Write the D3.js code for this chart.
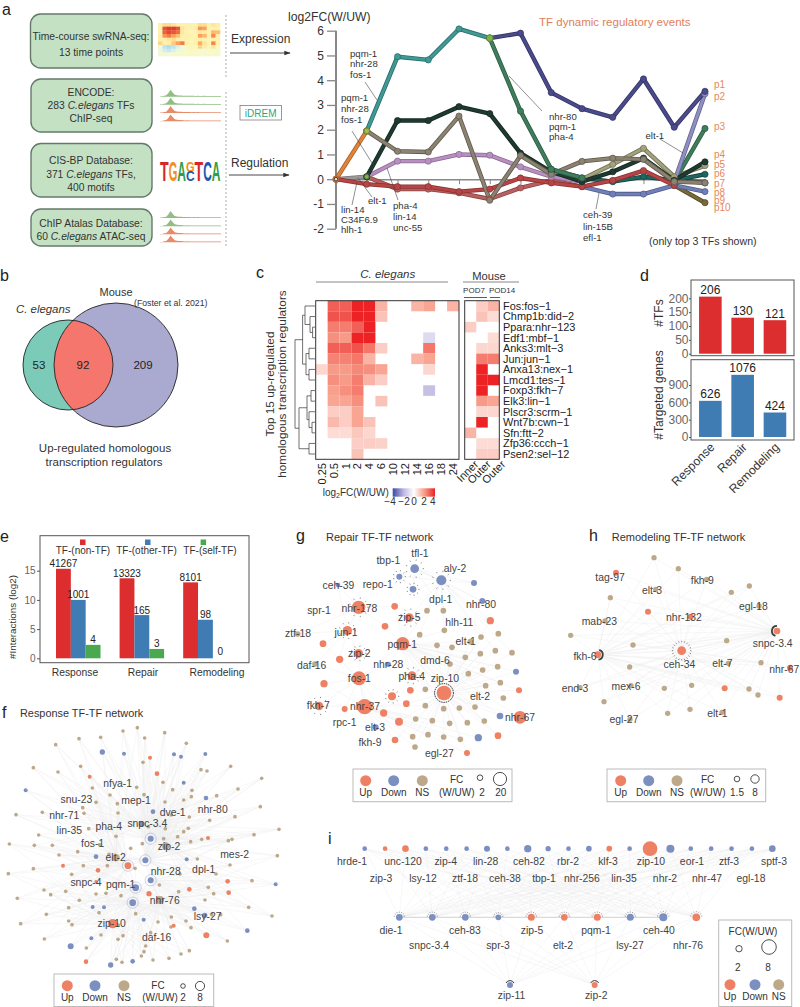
<!DOCTYPE html>
<html lang="en">
<head>
<meta charset="UTF-8">
<title>TF regulatory networks</title>
<script src="https://cdn.jsdelivr.net/npm/d3@7"></script>
<style>
  html, body { margin: 0; padding: 0; background: #fff; }
  svg { display: block; font-family: "Liberation Sans", Arial, sans-serif; }
  .tick text { font-family: "Liberation Sans", Arial, sans-serif; }
</style>
</head>
<body>
<div id="chart"></div>
<script>
// ---- panel a: temporal paths (log2FC per time point)
const timePoints = [0,1,2,3,4,5,6,7,8,9,10,11,12];
const pathStarts = [0,1,5,5,1,1,1,7,0,1,7,8,11,11,11,11,0];
const pathValues = [
  [0,1.95],
  [1.95,4.95,4.82,6.07,5.7],
  [5.7,5.9,3.5,2.85,2.5,4.05,2.1,3.55],
  [5.7,2.75,0.4,0.05],
  [1.95,1.13,1.1,2.55,-0.85,0.95,0.2,0.72,0.85,0.8,-0.1,-0.15],
  [0.1,2.37,2.37,2.93,2.65,1.05,0.3,-0.1,0.3,0.85,-0.05,0.7],
  [0.1,0.73,0.73,1,0.97,0.5,0.1,-0.1],
  [0.15,0,0.6,1.25,0.1,0.55],
  [0,-0.2,-0.3,-0.3,-0.5,-0.4,0.05,-0.15,-0.3,-0.05,0.35,-0.25],
  [0.1,-0.4,-0.4,-0.55,-0.8,-0.35,-0.05,-0.3],
  [0.4,0.05,-0.1,0.1,-0.05,0.2],
  [-0.3,-0.6,-0.6,-0.25,-0.5],
  [-0.1,3.45],
  [-0.1,2.05],
  [-0.25,-0.95],
  [0,-0.15],
  [0,0.1]
];
const pathLabels = ["p1","p2","p3","p4","p5","p6","p7","p8","p9","p10"];
const chartYTicks = [-2,-1,0,1,2,3,4,5,6];

// ---- panel b
const vennCounts = [53,92,209];

// ---- panel c
const hourCols = ["0.25","0.5","1","2","4","6","10","12","14","16","18","24"];
const mouseCols = ["Inner","Outer ","Outer"];
const regulators = ["Fos:fos\u22121","Chmp1b:did\u22122","Ppara:nhr\u2212123","Edf1:mbf\u22121","Anks3:mlt\u22123","Jun:jun\u22121","Anxa13:nex\u22121","Lmcd1:tes\u22121","Foxp3:fkh\u22127","Elk3:lin\u22121","Plscr3:scrm\u22121","Wnt7b:cwn\u22121","Sfn:ftt\u22122","Zfp36:ccch\u22121","Psen2:sel\u221212"];
const wormFC = [
  [0,3,3,4,4,1.5,0,0,1.5,1.8,0,1.5],
  [0,3.2,3.2,4,4,1.2,0,0,0,0,0,0],
  [0,2.5,2.5,3,4,0,0,0,0,0,0,0],
  [0,2.2,2,4,4,0,0,0,0,-1,0,0],
  [0,3,3,3.2,2.6,1,0,0,0,2.6,0,0],
  [0,2.4,2.4,2.6,1.5,0,0,0,1.5,1.8,0,0],
  [0.8,2,2,2.3,2.2,1.8,0,0,0,0.8,0,0],
  [0,2.2,2,2.5,1.5,1,0,0,0,0,0,0],
  [0,1.9,2.2,2.5,0,0,0,0,0,-1.7,0,0],
  [0,1.8,1.8,2.2,0,1.2,0,0,0,0,0,0],
  [0,1,1,1.8,0,0,0,0,0,0,0,0],
  [0,1.4,1,1.8,1.2,0,0,0,0,0,0,0],
  [0,0.7,0.7,1.1,0.8,0,0,0,0,0,0,0],
  [0,0,0,1,1,0.9,0,0,0,0,0,0],
  [0,0,0,1.2,0,0,0,0,0,0,0,0]
];
const mouseFC = [[0,1,1.5],[0,1.2,0.7],[1,0,0],[0,0,0.7],[0,0.8,0.8],[0,2.5,2.5],[0,4,0],[0,4,4],[0,4,0],[0,2,1.8],[0,0.8,0.8],[0,4,0],[1.5,0,0],[0,0.7,0.7],[0,1,1]];
// dendrogram: [height, left, right], leaves are row numbers
const dendro = [1,
  [0.62,
    [0.5,0,[0.25,1,[0.12,2,3]]],
    [0.45,[0.3,4,5],[0.3,6,7]]],
  [0.8,[0.4,[0.2,8,9],[0.3,10,[0.15,11,12]]],[0.3,13,14]]];

// ---- panel d
const phases = ["Response","Repair","Remodeling"];
const tfCounts = [206,130,121];
const geneCounts = [626,1076,424];

// ---- panel e
const interactionKinds = ["TF-(non-TF)","TF-(other-TF)","TF-(self-TF)"];
const interactionCounts = [[41267,1001,4],[13323,165,3],[8101,98,0]];
const interactionLog2 = [[15.33,10,2.3],[13.7,7.4,1.6],[13,6.6,0]];

// ---- networks: layout, in layout units [x, y, size]
const respUp = [[450,173,6],[471,221,7],[269,230,6],[624,414,6],[189,497,6],[294,511,7],[288,545,5],[683,544,7],[686,578,7],[568,568,7],[447,581,8],[521,677,6],[619,706,9],[258,785,7],[338,671,14],[384,497,10]];
const respDown = [[307,156,8],[372,161,6],[522,163,6],[543,170,6],[616,162,6],[77,271,6],[551,248,6],[618,294,7],[459,335,7],[288,470,7],[560,478,6],[827,553,6],[278,621,6],[312,622,6],[583,626,7],[431,659,6],[274,715,6],[742,692,7],[212,739,9],[332,795,8],[398,784,7],[425,372,9],[452,416,9],[436,481,9],[407,563,10],[398,608,10],[452,541,9],[614,646,8]];
const respNS = [[412,83],[369,93],[494,98],[237,116],[302,112],[434,114],[559,130],[167,134],[100,203],[174,216],[242,199],[429,187],[603,209],[621,213],[692,199],[785,235],[489,247],[410,262],[277,264],[518,269],[576,271],[714,267],[574,290],[330,285],[432,284],[650,287],[551,300],[288,307],[495,306],[248,323],[352,311],[127,337],[252,340],[48,344],[354,339],[781,320],[705,350],[514,345],[568,351],[629,361],[565,385],[551,395],[496,386],[266,386],[116,405],[445,380],[348,409],[427,431],[533,410],[762,404],[696,418],[685,422],[28,432],[103,436],[157,436],[233,455],[177,465],[832,467],[837,388],[572,425],[605,418],[491,416],[392,445],[299,434],[327,463],[250,497],[322,497],[405,505],[592,477],[690,495],[100,506],[25,521],[215,523],[648,522],[540,522],[756,542],[132,570],[197,574],[152,584],[625,562],[641,581],[52,595],[238,601],[206,623],[288,582],[318,580],[363,587],[478,555],[536,575],[615,600],[746,622],[816,648],[139,643],[62,671],[206,663],[216,674],[297,638],[407,641],[355,675],[474,666],[514,651],[558,663],[635,644],[662,644],[133,717],[303,705],[369,707],[354,718],[452,698],[513,681],[573,683],[682,723],[437,738],[432,755],[424,768],[259,744],[349,778],[366,787],[459,780],[507,775],[543,762],[568,752],[497,438,11],[348,473,11],[480,600,12]];
const respRings = [[452,416],[436,481],[407,563],[398,608],[452,541],[384,497]];
const respLabels = ["nfya-1","snu-23","mep-1","dve-1","nhr-80","nhr-71","snpc-3.4","pha-4","lin-35","fos-1","zip-2","mes-2","elt-2","nhr-28","dpl-1","snpc-4","pqm-1","nhr-76","lsy-27","zip-10","daf-16"];
const respLabelAt = [[353,251],[229,298],[408,300],[518,338],[638,327],[193,347],[442,370],[326,380],[208,391],[278,430],[507,440],[704,463],[347,471],[497,513],[611,509],[258,546],[362,554],[494,602],[623,649],[335,671],[470,713]];

const repairUp = [[374,289,10],[418,323,13],[345,349,10],[266,292,20],[232,362,14],[398,401,20],[159,401,10],[209,448,11],[266,430,13],[267,505,21],[162,521,11],[426,497,13],[421,541,10],[522,549,22],[366,559,12],[409,581,10],[147,588,13],[224,597,9],[284,590,23],[341,609,11],[387,635,12],[375,690,10],[661,332,11],[747,541,9],[750,622,19],[684,677,10],[591,729,9]];
const repairDown = [[434,176,13],[514,211,15],[388,200,9],[429,238,10],[612,219,9],[637,273,9],[204,225,7],[355,463,8],[738,485,9],[690,618,10],[625,683,11],[317,652,9]];
const repairNS = [[471,302],[520,302],[523,361],[449,374],[501,406],[546,412],[633,381],[685,371],[586,442],[631,431],[676,422],[726,428],[540,462],[595,491],[638,480],[683,470],[647,527],[691,518],[466,538],[700,564],[466,587],[521,596],[568,594],[615,591],[437,627],[487,632],[539,640],[592,638],[643,633],[428,680],[474,674],[521,681],[571,688],[435,711],[601,395],[135,462],[83,372]];
const repairHubs = [[522,549],[398,401],[267,505],[284,590],[266,292],[232,362],[434,176],[514,211]];
const repairTicks = [[418,323,24],[266,292,26],[232,362,22],[266,430,20],[147,588,24],[426,497,22],[434,176,24],[514,211,25],[388,200,16],[429,238,16],[366,559,18]];
const repairLabels = ["tfl-1","tbp-1","aly-2","ceh-39","repo-1","dpl-1","nhr-80","spr-1","nhr-178","zip-5","hlh-11","jun-1","ztf-18","pqm-1","elt-1","zip-2","dmd-6","nhr-28","daf-16","fos-1","pha-4","zip-10","elt-2","fkh-7","nhr-37","nhr-67","rpc-1","elt-3","fkh-9","egl-27"];
const repairLabelAt = [[450,130],[355,150],[555,175],[205,226],[323,224],[512,268],[633,284],[147,302],[268,294],[418,323],[568,338],[228,366],[84,371],[397,402],[587,395],[268,431],[495,452],[355,464],[125,465],[268,506],[425,499],[525,506],[630,558],[145,587],[285,590],[750,622],[224,638],[315,651],[300,697],[508,730]];

const remodelUp = [[168,158,9],[264,275,9],[392,290,9],[365,392,13],[113,404,10],[651,333,10],[690,443,9],[494,505,9],[659,533,9]];
const remodelNS = [[282,113],[355,146],[151,233],[287,208],[440,178],[514,217],[568,198],[597,258],[32,346],[219,375],[500,362],[209,441],[603,428],[505,430],[135,303],[60,503],[213,497],[132,545],[313,505],[395,496],[567,507],[594,525],[323,580],[390,568],[486,577],[210,598]];
const remodelHubs = [[365,392],[113,404],[651,333]];
const remodelLabels = ["tag-97","fkh-9","elt-3","egl-18","nhr-132","mab-23","snpc-3.4","fkh-6","ceh-34","elt-7","nhr-67","mex-6","end-3","egl-27","elt-1"];
const remodelLabelAt = [[150,172],[427,181],[276,212],[580,259],[372,293],[118,303],[638,369],[75,408],[358,432],[487,431],[673,447],[198,500],[45,506],[192,599],[472,580]];

const topTFs = ["hrde-1","zip-3","unc-120","lsy-12","zip-4","ztf-18","lin-28","ceh-38","ceh-82","tbp-1","rbr-2","nhr-256","klf-3","lin-35","zip-10","nhr-2","eor-1","nhr-47","ztf-3","egl-18","sptf-3"];
const topTFClass = ["D","U","U","D","D","D","D","D","D","D","D","D","U","D","U","D","D","D","D","D","D"];
const topTFSize = [7,7,10,7,7,7,9,7,11,8,7,8.5,8.5,7,22,12,7,7,7,7,10];
const topTFLabelAt = [352,381,403,423,445.7,465,485.7,505,529,544,568,582,608,624,651,665,692,707,729,751,774];
const midTFs = ["die-1","snpc-3.4","ceh-83","spr-3","zip-5","elt-2","pqm-1","lsy-27","ceh-40","nhr-76"];
const midTFClass = ["D","D","D","D","U","U","U","D","D","U"];
const midTFSize = [10,10,10,8.5,10.5,10,10.5,10.5,12,11.5];
const midTFLabelAt = [391,429,465,498,532,563,596,630,659,688];
const lowTFs = ["zip-11","zip-2"];
const lowTFClass = ["D","U"];
const lowTFAt = [510,594.7];

// ---- panel a thumbnails
const thumbValues = [
  [.54,.6,.6,.58,.54,.54,.54,.54,.54,.6,.6,.54,.58,.55],
  [.54,.84,.88,.88,.84,.58,.54,.54,.55,.74,.72,.54,.54,.54],
  [.54,.82,.86,.84,.8,.57,.54,.52,.54,.58,.56,.54,.68,.66],
  [.55,.74,.78,.72,.66,.55,.54,.54,.52,.72,.68,.54,.76,.54],
  [.54,.55,.58,.6,.55,.54,.54,.52,.54,.55,.54,.52,.54,.54],
  [.62,.54,.55,.64,.72,.78,.54,.52,.54,.7,.58,.52,.76,.54],
  [.47,.34,.32,.34,.4,.47,.5,.52,.5,.62,.55,.52,.58,.5],
  [.44,.38,.36,.4,.44,.46,.48,.5,.5,.48,.46,.49,.47,.48],
  [.47,.47,.46,.48,.48,.49,.49,.5,.49,.47,.48,.49,.48,.49]
];
const peakShape = [0,0,.1,.15,.5,1,.6,.25,.18,.14,.12,.1,.08,.1,.08,.07,.08,.06,.08,.06,.06,.07,.05,.06,.05,.06,.05,.05,.06,.05];
const motifLetters = ["T","G","A","","T","C","A"];
// mouse column labels are spread wider than the cells
const mouseLabelEnd = [479,491.5,506];

// ---- styles
const fontDark = "#333";
const cUp = "#ee8063", cDown = "#7b8fc0", cNS = "#bda98a";
const netColor = { U: cUp, D: cDown };
const pathColors = ["#e0843c","#3f9a96","#4a4a8c","#3f7d5c","#8c8272","#1f3a30","#b78fc0","#a2a27c","#b84545","#b86060","#1f6660","#6f7fb8","#8f8fc4","#3f7d5c","#7a6a3a","#6d6a4c","#999999"];
const pathEdges = ["#a85f28","#2c6b6b","#333366","#2d5a44","#5f584c","#142820","#8a6a92","#6e6e52","#8a3030","#8a4242","#144540","#4f5c8a","#62628e","#2d5a44","#544824","#4a4834","#777777"];
const motifColors = { T: "#d62728", G: "#f28e1c", A: "#2f9e44", C: "#2456b4" };
const netLabelSize = 10.4;

const svg = d3.select("#chart").append("svg").attr("width", 800).attr("height", 1007);

function put(x, y, str, opt) {
  opt = opt || {};
  const t = svg.append("text").attr("x", x).attr("y", y)
    .attr("font-size", opt.size || 10)
    .attr("fill", opt.fill || fontDark)
    .attr("text-anchor", opt.anchor || "start");
  if (opt.rotate !== undefined) t.attr("transform", `rotate(${opt.rotate},${x},${y})`);
  if (opt.italic) t.attr("font-style", "italic");
  if (opt.html) t.html(str); else t.text(str);
  return t;
}
function line(x1, y1, x2, y2, color, w, dash) {
  const l = svg.append("line").attr("x1", x1).attr("y1", y1).attr("x2", x2).attr("y2", y2)
    .attr("stroke", color || "#555").attr("stroke-width", w || 0.7);
  if (dash) l.attr("stroke-dasharray", dash);
  return l;
}
function panelBox(x, y, w, h, stroke) {
  svg.append("rect").attr("x", x).attr("y", y).attr("width", w).attr("height", h)
    .attr("fill", "none").attr("stroke", stroke || "#555").attr("stroke-width", 1);
}

// panel letters
[["a",2,15],["b",0,281],["c",256,278],["d",640,281],["e",0,542],["f",2,718],["g",296,541],["h",589,541],["i",328,844]]
  .forEach(d => put(d[1], d[2], d[0], { size: 16, fill: "#222" }));

// arrow marker
const defs = svg.append("defs");
defs.append("marker").attr("id", "arrow").attr("viewBox", "0 0 10 10").attr("refX", 9).attr("refY", 5)
  .attr("markerWidth", 7).attr("markerHeight", 7).attr("orient", "auto")
  .append("path").attr("d", "M0,1.5L10,5L0,8.5z").attr("fill", "#333");

// ---------- a: workflow boxes
const flowBoxes = [[30.5,14,121.5,54],[31,79,121,53],[31,143.5,121,53.5],[31,209,121,37]];
flowBoxes.forEach(b => svg.append("rect").attr("x", b[0]).attr("y", b[1]).attr("width", b[2]).attr("height", b[3])
  .attr("rx", 10).attr("fill", "#c4e2c3").attr("stroke", "#65796a").attr("stroke-width", 1.4));
const mid = 91;
put(mid, 39.5, "Time-course swRNA-seq:", { size: 10.3, anchor: "middle" });
put(mid, 56, "13 time points", { size: 10.3, anchor: "middle" });
put(mid, 96, "ENCODE:", { size: 10.3, anchor: "middle" });
put(mid, 109, '283  <tspan font-style="italic">C.elegans</tspan> TFs', { size: 10.3, anchor: "middle", html: true });
put(mid, 122, "ChIP-seq", { size: 10.3, anchor: "middle" });
put(mid, 164, "CIS-BP Database:", { size: 10.3, anchor: "middle" });
put(mid, 178, '371 <tspan font-style="italic">C.elegans</tspan> TFs,', { size: 10.3, anchor: "middle", html: true });
put(mid, 191, "400 motifs", { size: 10.3, anchor: "middle" });
put(mid, 227, "ChIP Atalas Database:", { size: 10.3, anchor: "middle" });
put(mid, 240, '60 <tspan font-style="italic">C.elegans</tspan> ATAC-seq', { size: 10.3, anchor: "middle", html: true });

// expression thumbnail
const thumbX = d3.scaleBand().domain(d3.range(14)).range([158, 220]);
const thumbY = d3.scaleBand().domain(d3.range(9)).range([23, 56]);
thumbValues.forEach((row, r) => row.forEach((v, c) => {
  svg.append("rect").attr("x", thumbX(c)).attr("y", thumbY(r))
    .attr("width", thumbX.bandwidth() + 0.3).attr("height", thumbY.bandwidth() + 0.3)
    .attr("fill", d3.interpolateRdYlBu(1 - v));
}));

// peak tracks
const peakX = d3.scaleLinear().domain([0, peakShape.length - 1]).range([160, 221]);
function track(base, color) {
  const a = d3.area().x((d, i) => peakX(i)).y0(base).y1(d => base - d * 6.5 - 0.4);
  svg.append("path").datum(peakShape).attr("d", a).attr("fill", color).attr("opacity", 0.85);
}
[[96.7,"#7fb36e"],[104.7,"#7fb36e"],[113,"#e3774f"],[121.3,"#e3774f"],[218,"#7fb36e"],[226.3,"#7fb36e"],[234.3,"#e3774f"],[242.3,"#e3774f"]]
  .forEach(d => track(d[0], d[1]));

// motif logo
const motifX = d3.scaleBand().domain(d3.range(7)).range([160, 220.5]);
motifLetters.forEach((m, i) => {
  if (!m) return;
  svg.append("text").attr("x", motifX(i)).attr("y", 181).attr("font-size", 27).attr("font-weight", "bold")
    .attr("textLength", motifX.bandwidth()).attr("lengthAdjust", "spacingAndGlyphs")
    .attr("fill", motifColors[m]).text(m);
});
svg.append("text").attr("x", motifX(3)).attr("y", 171.5).attr("font-size", 14).attr("font-weight", "bold")
  .attr("textLength", motifX.bandwidth()).attr("lengthAdjust", "spacingAndGlyphs").attr("fill", motifColors.G).text("G");
svg.append("text").attr("x", motifX(3)).attr("y", 181).attr("font-size", 14).attr("font-weight", "bold")
  .attr("textLength", motifX.bandwidth()).attr("lengthAdjust", "spacingAndGlyphs").attr("fill", motifColors.C).text("C");

line(226, 15, 226, 78, "#bbb", 1.2, "2,2");
line(226, 92, 226, 246, "#bbb", 1.2, "2,2");
put(231, 43, "Expression", { size: 12 });
line(230, 53, 290, 53, "#333", 0.9).attr("marker-end", "url(#arrow)");
put(231, 167, "Regulation", { size: 12 });
line(229, 175, 289, 175, "#333", 0.9).attr("marker-end", "url(#arrow)");
svg.append("rect").attr("x", 240).attr("y", 105.5).attr("width", 41.5).attr("height", 14.5)
  .attr("fill", "none").attr("stroke", "#8a7a7a").attr("stroke-width", 0.8);
put(260.7, 117, "iDREM", { size: 10, anchor: "middle", fill: "#2fa57a" });

// ---------- a: temporal chart
const tx = d3.scaleLinear().domain([0, 12]).range([336, 705]);
const ty = d3.scaleLinear().domain([-2, 6]).range([228.7, 30.7]);
const yAxisA = svg.append("g").attr("transform", "translate(336,0)")
  .call(d3.axisLeft(ty).tickValues(chartYTicks).tickSize(9).tickFormat(d3.format("d")));
yAxisA.selectAll("line").attr("stroke", "#888").attr("stroke-width", 1.3);
yAxisA.select(".domain").attr("stroke", "#888").attr("stroke-width", 2).attr("d", "M0,228.7V30.7");
yAxisA.selectAll("text").attr("font-size", 12).attr("fill", fontDark).attr("x", -12)
  .text(d => d < 0 ? "-" + Math.abs(d) : d);
const xAxisA = svg.append("g").attr("transform", `translate(0,${ty(0)})`)
  .call(d3.axisBottom(tx).tickValues(timePoints).tickSize(5).tickFormat(""));
xAxisA.selectAll("line").attr("stroke", "#888").attr("stroke-width", 1);
xAxisA.select(".domain").attr("stroke", "#888").attr("stroke-width", 1.4);

const linePath = d3.line().x(d => tx(d.t)).y(d => ty(d.v));
const pathData = pathValues.map((vals, i) => vals.map((v, j) => ({ t: pathStarts[i] + j, v: v })));
const drawOrder = [16,15,14,11,10,9,8,7,6,13,12,5,4,3,1,0,2];
drawOrder.forEach(i => {
  svg.append("path").datum(pathData[i]).attr("d", linePath).attr("fill", "none")
    .attr("stroke", pathEdges[i]).attr("stroke-width", 4.4).attr("stroke-linejoin", "round");
  svg.append("path").datum(pathData[i]).attr("d", linePath).attr("fill", "none")
    .attr("stroke", pathColors[i]).attr("stroke-width", 2.8).attr("stroke-linejoin", "round");
});
drawOrder.forEach(i => {
  if (i === 16) return;
  svg.append("g").selectAll("circle").data(pathData[i]).join("circle")
    .attr("cx", d => tx(d.t)).attr("cy", d => ty(d.v)).attr("r", 3.1)
    .attr("fill", pathColors[i]).attr("stroke", pathEdges[i]).attr("stroke-width", 0.7);
});
// split nodes are light green in the reference
svg.append("circle").attr("cx", tx(1)).attr("cy", ty(1.95)).attr("r", 2.8).attr("fill", "#9ac04a").attr("stroke", "#6d8c3a");
svg.append("circle").attr("cx", tx(5)).attr("cy", ty(5.7)).attr("r", 3.3).attr("fill", "#7fb548").attr("stroke", "#5f8a36");
svg.append("circle").attr("cx", tx(1)).attr("cy", ty(0.1)).attr("r", 2.2).attr("fill", "#7fb548").attr("stroke", "#5f8a36");
svg.append("circle").attr("cx", tx(0)).attr("cy", ty(0)).attr("r", 1.8).attr("fill", "#ddd").attr("stroke", "#222").attr("stroke-width", 0.8);

put(288, 21, "log2FC(W/UW)", { size: 12.2 });
put(539, 26, "TF dynamic regulatory events", { size: 11.5, fill: "#e0805a" });
const pY = [85,97,127,155,165,174,184,193,201,208];
pathLabels.forEach((p, i) => put(714, pY[i] + 3, p, { size: 10, fill: "#e8875a" }));

const leaders = [[365,82,377,100],[352,131,372,163],[358,178,372,197],[357,182,352,205],[387,168,398,200],[509,76,542,111],[660,139,683,153],[599,193,596,209]];
leaders.forEach(l => line(l[0], l[1], l[2], l[3], "#444", 0.6));
[[350,56.5,"pqm-1"],[350,67,"nhr-28"],[350,78,"fos-1"],[341,101,"pqm-1"],[341,112,"nhr-28"],[341,123,"fos-1"],
 [368,204,"elt-1"],[341,213,"lin-14"],[341,223,"C34F6.9"],[341,233,"hlh-1"],[393,209,"pha-4"],[393,220,"lin-14"],[393,231,"unc-55"],
 [549,120,"nhr-80"],[549,130,"pqm-1"],[549,140,"pha-4"],[645.5,139,"elt-1"],[583,218,"ceh-39"],[583,230,"lin-15B"],[583,241,"efl-1"]]
  .forEach(d => put(d[0], d[1], d[2], { size: 9.6 }));
put(649, 245, "(only top 3 TFs shown)", { size: 10.6 });

// ---------- b: venn
svg.append("circle").attr("cx", 68).attr("cy", 365).attr("r", 45).attr("fill", "#7ccbb8");
svg.append("circle").attr("cx", 116).attr("cy", 365).attr("r", 62).attr("fill", "#aaaad0");
svg.append("clipPath").attr("id", "vennClip").append("circle").attr("cx", 68).attr("cy", 365).attr("r", 45);
svg.append("circle").attr("cx", 116).attr("cy", 365).attr("r", 62).attr("fill", "#f4766c").attr("clip-path", "url(#vennClip)");
svg.append("circle").attr("cx", 68).attr("cy", 365).attr("r", 45).attr("fill", "none").attr("stroke", "#222").attr("stroke-width", 0.9);
svg.append("circle").attr("cx", 116).attr("cy", 365).attr("r", 62).attr("fill", "none").attr("stroke", "#222").attr("stroke-width", 0.9);
[39,83,143].forEach((x, i) => put(x, 369, vennCounts[i], { size: 11.5, anchor: "middle", fill: "#222" }));
put(116, 296, "Mouse", { size: 11, anchor: "middle" });
put(134, 306, "(Foster et al. 2021)", { size: 8.7 });
put(16, 313, "C. elegans", { size: 11.4, italic: true });
put(105, 452, "Up-regulated homologous", { size: 11.5, anchor: "middle" });
put(104, 466, "transcription regulators", { size: 11.5, anchor: "middle" });

// ---------- c: heatmap
const hmColor = d3.scaleLinear().domain([-4,-2,0,2,4]).range(["#3a4aa5","#bdb4df","#ffffff","#f79b88","#ec2224"]);
const hmY = d3.scaleBand().domain(regulators).range([300.7, 459.3]);
const hmX = d3.scaleBand().domain(hourCols).range([315.7, 459]);
const msX = d3.scaleBand().domain(mouseCols).range([464.7, 499.3]);
function heat(matrix, xs, cols) {
  matrix.forEach((row, r) => row.forEach((v, c) => {
    if (v === 0) return;
    svg.append("rect").attr("x", xs(cols[c])).attr("y", hmY(regulators[r]))
      .attr("width", xs.bandwidth()).attr("height", hmY.bandwidth()).attr("fill", hmColor(v));
  }));
}
heat(wormFC, hmX, hourCols);
heat(mouseFC, msX, mouseCols);
panelBox(315.7, 300.7, 143.3, 158.6, "#333");
panelBox(464.7, 300.7, 34.6, 158.6, "#333");
regulators.forEach(r => put(503, hmY(r) + hmY.bandwidth() / 2 + 3.8, r, { size: 10.9, fill: "#222" }));
hourCols.forEach(c => put(hmX(c) + hmX.bandwidth() / 2 + 4, 463, c, { size: 11, anchor: "end", rotate: -90, fill: "#222" }));
mouseCols.forEach((c, i) => put(mouseLabelEnd[i], 465, c.trim(), { size: 11, anchor: "end", rotate: -45, fill: "#222" }));

// dendrogram via hierarchy heights
const dgX = d3.scaleLinear().domain([0, 1]).range([315, 295]);
function drawDendro(node) {
  if (typeof node === "number") return { y: hmY(regulators[node]) + hmY.bandwidth() / 2, h: 0 };
  const a = drawDendro(node[1]), b = drawDendro(node[2]);
  line(dgX(node[0]), a.y, dgX(a.h), a.y, "#333", 0.7);
  line(dgX(node[0]), b.y, dgX(b.h), b.y, "#333", 0.7);
  line(dgX(node[0]), a.y, dgX(node[0]), b.y, "#333", 0.7);
  return { y: (a.y + b.y) / 2, h: node[0] };
}
drawDendro(dendro);

put(387.7, 278, "C. elegans", { size: 11.5, anchor: "middle", italic: true });
line(316, 282, 448, 282, "#888", 1);
put(489, 280, "Mouse", { size: 11.2, anchor: "middle" });
line(463, 282, 519, 282, "#888", 1);
put(474, 293, "POD7", { size: 8, anchor: "middle" });
put(502, 293, "POD14", { size: 8, anchor: "middle" });
line(464, 297.5, 487, 297.5, "#333", 0.8);
line(490, 297.5, 500, 297.5, "#333", 0.8);
put(274, 384, "Top 15 up-regulated", { size: 11.8, anchor: "middle", rotate: -90 });
put(285.5, 384, "homologous transcription regulators", { size: 11.8, anchor: "middle", rotate: -90 });

put(322.7, 496, 'log<tspan font-size="7" dy="2">2</tspan><tspan dy="-2">FC(W/UW)</tspan>', { size: 10, html: true });
const barGrad = defs.append("linearGradient").attr("id", "hmBar");
d3.range(0, 1.01, 0.25).forEach((t, i) => barGrad.append("stop").attr("offset", t).attr("stop-color", hmColor(-4 + i * 2)));
svg.append("rect").attr("x", 392.7).attr("y", 488.3).attr("width", 42.3).attr("height", 8.4).attr("fill", "url(#hmBar)");
[["\u22124",390],["\u22122",404],["0",414],["2",424],["4",432.7]].forEach(d => put(d[1], 505, d[0], { size: 10, anchor: "middle" }));

// ---------- d: bars
const dX = d3.scaleBand().domain(phases).range([694.2, 791.1]).paddingInner(0.3).paddingOuter(0.15);
const dTop = d3.scaleLinear().domain([0, 200]).range([353.7, 298.3]);
const dBot = d3.scaleLinear().domain([0, 900]).range([437, 385]);
function countBars(vals, y, color, ticks) {
  svg.append("g").selectAll("rect").data(vals).join("rect")
    .attr("x", (d, i) => dX(phases[i])).attr("width", dX.bandwidth())
    .attr("y", d => y(d)).attr("height", d => y(0) - y(d)).attr("fill", color);
  vals.forEach((v, i) => put(dX(phases[i]) + dX.bandwidth() / 2, y(v) - 2.5, v, { size: 12, anchor: "middle", fill: "#222" }));
  const ax = svg.append("g").attr("transform", "translate(691,0)")
    .call(d3.axisLeft(y).tickValues(ticks).tickSize(2).tickPadding(0.5));
  ax.select(".domain").remove();
  ax.selectAll("line").attr("stroke", "#555");
  ax.selectAll("text").attr("font-size", 12).attr("fill", "#666");
}
countBars(tfCounts, dTop, "#dc2e2e", [0,50,100,150,200]);
countBars(geneCounts, dBot, "#3f7cb4", [0,300,600,900]);
panelBox(691, 280, 103, 75.7);
panelBox(691, 359.7, 103, 80.3);
put(663, 313, "#TFs", { size: 12, anchor: "middle", rotate: -90 });
put(663, 395, "#Targeted genes", { size: 12, anchor: "middle", rotate: -90 });
phases.forEach(p => put(dX(p) + dX.bandwidth() / 2 + 5, 448, p, { size: 12.2, anchor: "end", rotate: -45 }));

// ---------- e: grouped bars
const eX = d3.scaleBand().domain(phases).range([56, 227.7]).paddingInner(0.3);
const eInner = d3.scaleBand().domain(interactionKinds).range([0, eX.bandwidth()]);
const eY = d3.scaleLinear().domain([0, 15]).range([658.3, 570.7]);
const eColors = ["#dc2e2e", "#3f7cb4", "#4aa84e"];
phases.forEach((p, g) => interactionKinds.forEach((k, s) => {
  const v = interactionLog2[g][s];
  svg.append("rect").attr("x", eX(p) + eInner(k)).attr("width", eInner.bandwidth())
    .attr("y", eY(v)).attr("height", eY(0) - eY(v)).attr("fill", eColors[s]);
  const lift = v === 0 ? 3.5 : 1.5;
  put(eX(p) + eInner(k) + eInner.bandwidth() / 2, eY(v) - lift, interactionCounts[g][s], { size: 10, anchor: "middle", fill: "#222" });
}));
const eAxis = svg.append("g").attr("transform", "translate(40,0)")
  .call(d3.axisLeft(eY).tickValues([0,5,10,15]).tickSize(3).tickPadding(1.5));
eAxis.select(".domain").remove();
eAxis.selectAll("line").attr("stroke", "#555");
eAxis.selectAll("text").attr("font-size", 10).attr("fill", "#666");
panelBox(40, 535.7, 209, 127);
[[82.7,83],[147.7,146.5],[203.3,210]].forEach((d, i) => {
  svg.append("rect").attr("x", d[0] - 2.7).attr("y", 539.5).attr("width", 5.5).attr("height", 5.5).attr("fill", eColors[i]);
  put(d[1], 554, interactionKinds[i], { size: 10, anchor: "middle" });
});
put(16, 617, "#Interactions (log2)", { size: 9.8, anchor: "middle", rotate: -90 });
[75,143,217].forEach((x, i) => put(x, 676, phases[i], { size: 10.3, anchor: "middle" }));

// ---------- networks
function network(opt) {
  const sx = d3.scaleLinear().domain([0, 840]).range([opt.x0, opt.x0 + 280]);
  const sy = d3.scaleLinear().domain([0, 840]).range([opt.y0, opt.y0 + 280]);
  const sr = d3.scaleLinear().domain([0, 30]).range([0, 10]);
  const all = [].concat(opt.up, opt.down, opt.ns);
  const gEdges = svg.append("g").attr("stroke", "#dddddd").attr("stroke-width", 0.4).attr("opacity", opt.edgeOpacity);
  all.forEach(n => {
    const near = opt.hubs.slice().sort((a, b) =>
      (Math.hypot(a[0]-n[0], a[1]-n[1])) - (Math.hypot(b[0]-n[0], b[1]-n[1]))).slice(0, opt.links);
    near.forEach(h => gEdges.append("line").attr("x1", sx(n[0])).attr("y1", sy(n[1])).attr("x2", sx(h[0])).attr("y2", sy(h[1])));
  });
  [[opt.ns, cNS], [opt.up, cUp], [opt.down, cDown]].forEach(d => {
    svg.append("g").selectAll("circle").data(d[0]).join("circle")
      .attr("cx", n => sx(n[0])).attr("cy", n => sy(n[1]))
      .attr("r", n => sr(n[2] || opt.nsSize)).attr("fill", d[1]);
  });
  return { sx, sy, sr };
}
function ticksAround(sc, hub, R, n, color) {
  d3.range(n).forEach(i => {
    const a = i / n * 2 * Math.PI;
    line(sc.sx(hub[0]) + Math.cos(a) * R, sc.sy(hub[1]) + Math.sin(a) * R,
      sc.sx(hub[0]) + Math.cos(a) * (R + 1.3), sc.sy(hub[1]) + Math.sin(a) * (R + 1.3), color || "#444", 0.6);
  });
}
function labels(sc, names, at) {
  names.forEach((n, i) => put(sc.sx(at[i][0]), sc.sy(at[i][1]) + 3.6, n, { size: netLabelSize, anchor: "middle", fill: "#444" }));
}
function legendSwatches(xs, y, ly) {
  [["Up", cUp], ["Down", cDown], ["NS", cNS]].forEach((d, i) => {
    svg.append("circle").attr("cx", xs[i]).attr("cy", y).attr("r", 5.5).attr("fill", d[1]);
    put(xs[i], ly, d[0], { size: 10, anchor: "middle" });
  });
}
function openCircle(x, y, r) {
  svg.append("circle").attr("cx", x).attr("cy", y).attr("r", r).attr("fill", "none").attr("stroke", "#222").attr("stroke-width", 0.8);
}
const legendStroke = "#bbb";

// f
put(20, 717, "Response TF-TF network", { size: 10.9 });
const fSc = network({ x0: 0, y0: 700, up: respUp, down: respDown, ns: respNS,
  hubs: respRings.concat([[338,671],[497,438],[348,473],[480,600],[425,372]]), links: 4, edgeOpacity: 0.5, nsSize: 5.5 });
respRings.forEach(h => {
  svg.append("circle").attr("cx", fSc.sx(h[0])).attr("cy", fSc.sy(h[1])).attr("r", 5.6)
    .attr("fill", "none").attr("stroke", "#9aa8cc").attr("stroke-width", 0.5);
});
labels(fSc, respLabels, respLabelAt);
panelBox(54, 974, 159.7, 32.5, legendStroke);
legendSwatches([67.3, 95, 124], 985.7, 1000.5);
put(158, 989, "FC", { size: 10, anchor: "middle" });
put(160, 1001, "(W/UW)", { size: 10, anchor: "middle" });
openCircle(183, 986, 2.3); openCircle(200, 986, 4.6);
put(183, 1001, "2", { size: 10, anchor: "middle" });
put(200, 1001, "8", { size: 10, anchor: "middle" });

// g
put(326, 541, "Repair TF-TF network", { size: 11 });
const gSc = network({ x0: 270, y0: 510, up: repairUp, down: repairDown, ns: repairNS,
  hubs: repairHubs, links: 2, edgeOpacity: 0.55, nsSize: 8.5 });
svg.append("circle").attr("cx", gSc.sx(522)).attr("cy", gSc.sy(549)).attr("r", 9.4)
  .attr("fill", "none").attr("stroke", "#222").attr("stroke-width", 1).attr("stroke-dasharray", "1.4,0.9");
repairTicks.forEach(h => ticksAround(gSc, h, h[2] / 3, 9));
labels(gSc, repairLabels, repairLabelAt);
panelBox(353, 769, 159, 32.7, legendStroke);
legendSwatches([365.7, 393.7, 422.3], 780.7, 795.5);
put(456.7, 783, "FC", { size: 10, anchor: "middle" });
put(456.7, 796, "(W/UW)", { size: 10, anchor: "middle" });
openCircle(480, 777.7, 2.8); openCircle(500, 779, 6.6);
put(482, 796, "2", { size: 10, anchor: "middle" });
put(500.7, 796, "20", { size: 10, anchor: "middle" });

// h
put(611.7, 541, "Remodeling TF-TF network", { size: 11 });
const hSc = network({ x0: 560, y0: 520, up: remodelUp, down: [], ns: remodelNS,
  hubs: remodelHubs, links: 3, edgeOpacity: 0.55, nsSize: 8 });
ticksAround(hSc, remodelHubs[0], 8.5, 20, "#333");
// self-loop clusters sit on one side of the two outer hubs
const hubArc = d3.arc().innerRadius(4.2).outerRadius(6);
[[remodelHubs[1], 0.1 * Math.PI, 0.95 * Math.PI], [remodelHubs[2], 1.1 * Math.PI, 2 * Math.PI]].forEach(d => {
  svg.append("path").attr("transform", `translate(${hSc.sx(d[0][0])},${hSc.sy(d[0][1])})`)
    .attr("d", hubArc({ startAngle: d[1], endAngle: d[2] })).attr("fill", "#3a3f3f");
});
labels(hSc, remodelLabels, remodelLabelAt);
panelBox(607, 769, 158.7, 32.7, legendStroke);
legendSwatches([620.7, 648.7, 677], 780.7, 796);
put(707.7, 783, "FC", { size: 10, anchor: "middle" });
put(707.7, 796, "(W/UW)", { size: 10, anchor: "middle" });
openCircle(737, 779, 2.8); openCircle(755, 779, 4.2);
put(737, 796, "1.5", { size: 10, anchor: "middle" });
put(755, 796, "8", { size: 10, anchor: "middle" });

// i
const iTop = d3.scalePoint().domain(topTFs).range([364.7, 772.3]);
const iMid = d3.scalePoint().domain(midTFs).range([399.3, 696.3]);
const iLow = d3.scaleOrdinal().domain(lowTFs).range(lowTFAt);
const iR = d3.scaleLinear().domain([0, 30]).range([0, 10]);
const yTop = 848.7, yMid = 917.3, yLow = 985;
const gi = svg.append("g").attr("stroke", "#e2e2e2").attr("stroke-width", 0.35).attr("opacity", 0.75);
topTFs.forEach((t, i) => midTFs.forEach((m, j) => {
  if ((i * 3 + j) % 2 === 0) gi.append("line").attr("x1", iTop(t)).attr("y1", yTop).attr("x2", iMid(m)).attr("y2", yMid);
}));
midTFs.forEach(m => lowTFs.forEach(l => gi.append("line").attr("x1", iMid(m)).attr("y1", yMid).attr("x2", iLow(l)).attr("y2", yLow)));
line(iMid(midTFs[0]), yMid, iMid(midTFs[8]), yMid, "#bdbdbd", 0.7);
topTFs.forEach((t, i) => {
  svg.append("circle").attr("cx", iTop(t)).attr("cy", yTop).attr("r", iR(topTFSize[i])).attr("fill", netColor[topTFClass[i]]);
  put(topTFLabelAt[i], i % 2 ? 881.5 : 864.5, t, { size: netLabelSize, anchor: "middle", fill: "#444" });
});
midTFs.forEach((m, i) => {
  svg.append("circle").attr("cx", iMid(m)).attr("cy", yMid).attr("r", iR(midTFSize[i])).attr("fill", netColor[midTFClass[i]]);
  d3.range(7).forEach(k => {
    const a = -Math.PI + (k + 0.5) / 7 * Math.PI;
    const R = iR(midTFSize[i]) + 1.2;
    line(iMid(m) + Math.cos(a) * R, yMid + Math.sin(a) * R, iMid(m) + Math.cos(a) * (R + 1.2), yMid + Math.sin(a) * (R + 1.2), "#444", 0.5);
  });
  put(midTFLabelAt[i], i % 2 ? 949 : 934, m, { size: netLabelSize, anchor: "middle", fill: "#444" });
});
lowTFs.forEach((l, i) => {
  svg.append("circle").attr("cx", iLow(l)).attr("cy", yLow).attr("r", 3).attr("fill", netColor[lowTFClass[i]]);
  svg.append("path").attr("d", `M${iLow(l) - 4},${yLow - 2}A4.5,4.5 0 0 1 ${iLow(l) + 4},${yLow - 2}`).attr("fill", "none").attr("stroke", "#222").attr("stroke-width", 0.9);
  put(iLow(l) + 1.5, 998.5, l, { size: netLabelSize, anchor: "middle", fill: "#444" });
});
svg.append("rect").attr("x", 718.7).attr("y", 920).attr("width", 73).attr("height", 86.5).attr("fill", "#fff").attr("stroke", legendStroke).attr("stroke-width", 1);
put(753, 934.5, "FC(W/UW)", { size: 10, anchor: "middle" });
openCircle(739, 948.7, 3.2); openCircle(769, 947, 7.3);
put(737.7, 970.5, "2", { size: 10, anchor: "middle" });
put(768, 970.5, "8", { size: 10, anchor: "middle" });
legendSwatches([730, 755, 778.7], 984.7, 999.5);
</script>
</body>
</html>
